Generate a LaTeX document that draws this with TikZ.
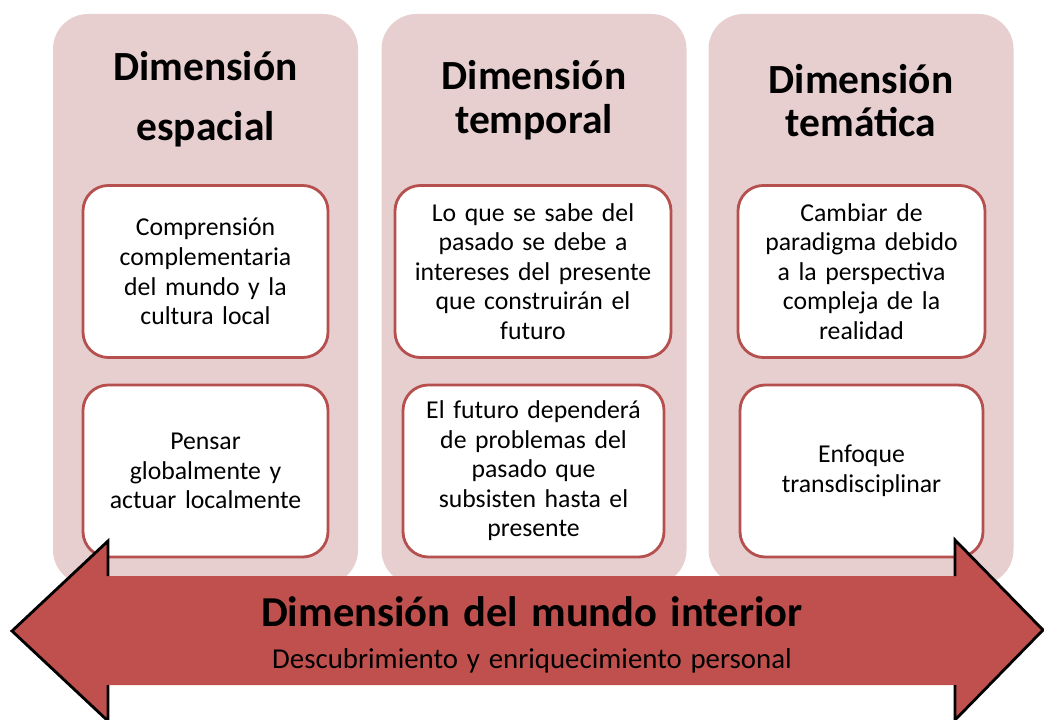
\documentclass[tikz,border=0pt]{standalone}
\usepackage{fontspec}
\setmainfont{Carlito}[WordSpace={1.35,0.5,0.2}]
\usetikzlibrary{positioning}
\definecolor{colfill}{HTML}{E7CFD0}
\definecolor{boxline}{HTML}{B5504E}
\definecolor{arrowred}{HTML}{C0504D}
\tikzset{
  column/.style={fill=colfill, rounded corners=25, minimum width=305*0.025cm, minimum height=571*0.025cm, inner sep=0pt},
  title/.style={font=\bfseries\fontsize{29.5}{31}\selectfont, align=center, text=black},
  idea/.style={draw=boxline, line width=2pt, fill=white, rounded corners=18, minimum height=172*0.025cm, inner sep=0pt, align=center, font=\fontsize{18.3}{21}\selectfont},
}

\begin{document}
\begin{tikzpicture}[x=0.025cm, y=-0.025cm]
  \useasboundingbox[fill=white] (0,0) rectangle (1044,720);
  % Columnas
  \node[column] (c1) at (205.5,299.5) {};
  \node[column] (c2) at (534,299.5) {};
  \node[column] (c3) at (861,299.5) {};
  \node[title] (t1) at (205.5,99) {Dimensión\\[12pt]espacial};
  \node[title] (t2) at (534,100.5) {Dimensión\\temporal};
  \node[title] (t3) at (861,100.5) {Dimensión\\temática};
  % Cajas
  \node[idea, minimum width=245*0.025cm, text width=235*0.025cm] (e1) at (205.5,271.5) {Comprensión\\complementaria\\del mundo  y la\\cultura local};
  \node[idea, minimum width=245*0.025cm, text width=235*0.025cm] (e2) at (205.5,471) {Pensar\\globalmente y\\actuar localmente};
  \node[idea, minimum width=276*0.025cm, text width=266*0.025cm] (p1) at (533,271.5) {Lo que se sabe del\\pasado se debe a\\intereses del presente\\que construirán el\\futuro};
  \node[idea, minimum width=261*0.025cm, text width=251*0.025cm] (p2) at (533.5,471) {El futuro dependerá\\de problemas del\\pasado que\\subsisten hasta el\\presente};
  \node[idea, minimum width=247*0.025cm, text width=237*0.025cm] (m1) at (861.5,271.5) {Cambiar de\\paradigma debido\\a la perspectiva\\compleja de la\\realidad};
  \node[idea, minimum width=243*0.025cm, text width=233*0.025cm] (m2) at (861.5,471) {Enfoque\\transdisciplinar};
  % Flecha doble
  \fill[arrowred] (12,631) -- (108,541) -- (108,576) -- (955,576) -- (955,540) -- (1043,630)
    -- (955,720) -- (955,685) -- (108,685) -- (108,721) -- cycle;
  \draw[line width=2pt, line join=miter] (108,576) -- (108,541) -- (12,631) -- (108,721) -- (108,685);
  \draw[line width=2pt, line join=miter] (955,576) -- (955,540) -- (1043,630) -- (955,720) -- (955,685);
  \node[font=\bfseries\fontsize{30.3}{32}\selectfont] (interior) at (532,612) {Dimensión del mundo interior};
  \node[font=\fontsize{20.5}{22}\selectfont, below=8pt of interior] (personal) {Descubrimiento y enriquecimiento personal};
\end{tikzpicture}
\end{document}
